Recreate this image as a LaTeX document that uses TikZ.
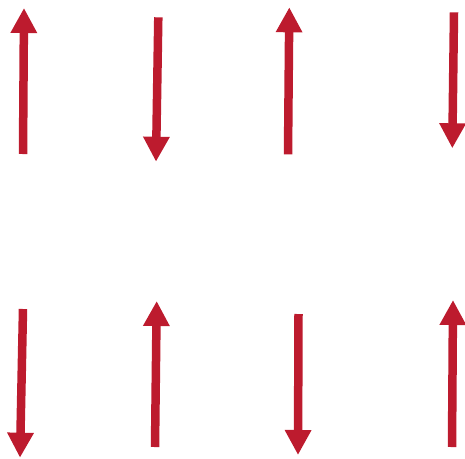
\documentclass[tikz,border=0pt]{standalone}
\usetikzlibrary{arrows.meta}
\definecolor{arrowred}{RGB}{189,27,46}
\tikzset{
  redarrow/.style={draw=arrowred, line width=8.5pt,
    -{Triangle[width=25pt,length=25pt,fill=arrowred]}}
}
\begin{document}
\begin{tikzpicture}[x=1pt,y=-1pt]
\useasboundingbox (0,0) rectangle (465,458);
% top row
\coordinate (a1s) at (23,154);  \coordinate (a1e) at (24,8);
\coordinate (a2s) at (158.3,17.3); \coordinate (a2e) at (156,161.7);
\coordinate (a3s) at (288,154.3); \coordinate (a3e) at (289.3,7.3);
\coordinate (a4s) at (454,12.3); \coordinate (a4e) at (452.3,148.3);
% bottom row
\coordinate (b1s) at (23,309); \coordinate (b1e) at (20,457.7);
\coordinate (b2s) at (155,447); \coordinate (b2e) at (156.7,301);
\coordinate (b3s) at (298.5,314); \coordinate (b3e) at (298,455);
\coordinate (b4s) at (452,447); \coordinate (b4e) at (453,300);
\draw[redarrow] (a1s) -- (a1e);
\draw[redarrow] (a2s) -- (a2e);
\draw[redarrow] (a3s) -- (a3e);
\draw[redarrow] (a4s) -- (a4e);
\draw[redarrow] (b1s) -- (b1e);
\draw[redarrow] (b2s) -- (b2e);
\draw[redarrow] (b3s) -- (b3e);
\draw[redarrow] (b4s) -- (b4e);
\end{tikzpicture}
\end{document}
